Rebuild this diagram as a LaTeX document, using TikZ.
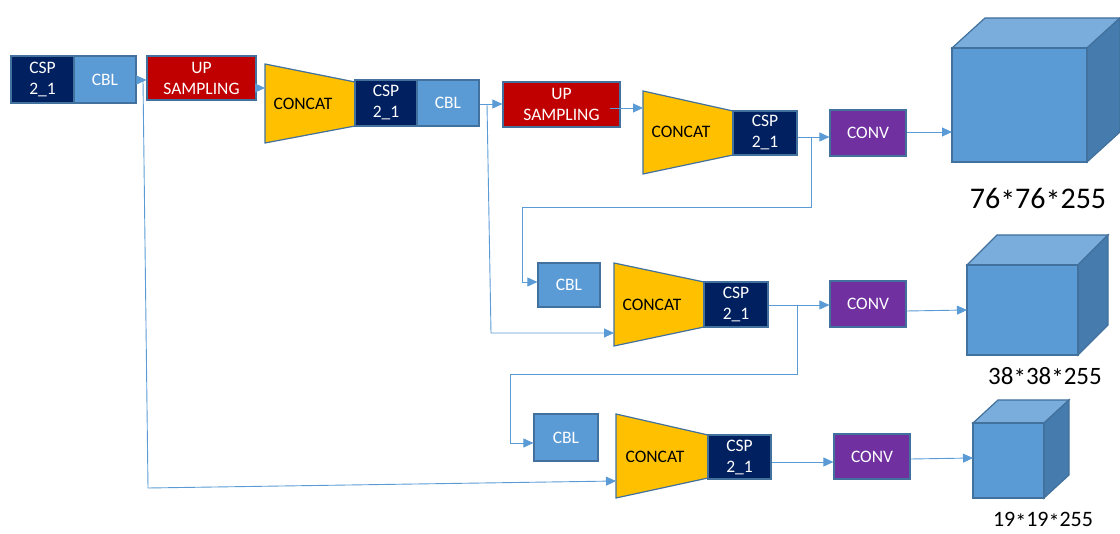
\documentclass[tikz,border=0pt]{standalone}
\usepackage{fontspec}
\setmainfont{Carlito}
\usetikzlibrary{arrows.meta,calc}
\definecolor{navy}{HTML}{002060}
\definecolor{cblc}{HTML}{5B9BD5}
\definecolor{upred}{HTML}{C00000}
\definecolor{concy}{HTML}{FFC000}
\definecolor{convp}{HTML}{7030A0}
\definecolor{bord}{HTML}{41719C}
\definecolor{lineb}{HTML}{5B9BD5}
\definecolor{cubetop}{HTML}{7AACDC}
\definecolor{cubeside}{HTML}{467BAD}
\newcommand{\mstar}{\raisebox{-0.22ex}{*}}
\tikzset{
  box/.style={draw=bord, line width=1.2pt, inner sep=0pt, align=center, text=white,
    font=\fontsize{17.5}{21}\selectfont},
  concatst/.style={draw=bord, line width=1.2pt, fill=concy},
  ctext/.style={inner sep=0pt, text=black, font=\fontsize{17.5}{21}\selectfont},
  conn/.style={draw=lineb, line width=0.9pt, -{Triangle[length=10pt,width=9pt]}},
  plainline/.style={draw=lineb, line width=0.9pt},
  cubeedge/.style={draw=bord, line width=1.2pt},
  dimlabel/.style={inner sep=0pt, text=black},
}
\begin{document}
\begin{tikzpicture}[x=1pt,y=-1pt]
\useasboundingbox (0,0) rectangle (1120,534);
% ---- top row
\node[box, fill=navy, minimum width=63, minimum height=47] (csp1) at (42.5,79.5) {CSP\\2\_1};
\node[box, fill=cblc, minimum width=62, minimum height=47] (cbl1) at (105,79.5) {CBL};
\node[box, fill=upred, minimum width=109, minimum height=44] (up1) at (201.5,78) {UP\\SAMPLING};
\draw[concatst] (265,64) -- (355,82) -- (355,126) -- (265,143) -- cycle;
\coordinate (c1w) at (265,88);
\node[ctext] (c1) at (303,104) {CONCAT};
\node[box, fill=navy, minimum width=62, minimum height=46] (csp2) at (386,103) {CSP\\2\_1};
\node[box, fill=cblc, minimum width=62, minimum height=46] (cbl2) at (448,103) {CBL};
\node[box, fill=upred, minimum width=117, minimum height=45] (up2) at (561.5,104.5) {UP\\SAMPLING};
\draw[concatst] (643,91) -- (733,111) -- (733,155) -- (643,174) -- cycle;
\coordinate (c2w) at (643,108);
\node[ctext] (c2) at (681,132) {CONCAT};
\node[box, fill=navy, minimum width=64, minimum height=44] (csp3) at (765,133) {CSP\\2\_1};
\node[box, fill=convp, minimum width=76, minimum height=46] (conv1) at (868,133) {CONV};
% ---- middle row
\node[box, fill=cblc, minimum width=62, minimum height=44] (cbl3) at (569,285) {CBL};
\draw[concatst] (614,263) -- (704,282) -- (704,327) -- (614,346) -- cycle;
\coordinate (c3w) at (614,333);
\node[ctext] (c3) at (652,305) {CONCAT};
\node[box, fill=navy, minimum width=64, minimum height=45] (csp4) at (736,304.5) {CSP\\2\_1};
\node[box, fill=convp, minimum width=76, minimum height=46] (conv2) at (868,304) {CONV};
% ---- bottom row
\node[box, fill=cblc, minimum width=64, minimum height=47] (cbl4) at (566,437.5) {CBL};
\draw[concatst] (616,414) -- (708,435) -- (708,478) -- (616,498) -- cycle;
\coordinate (c4w) at (616,481);
\node[ctext] (c4) at (655,457) {CONCAT};
\node[box, fill=navy, minimum width=63, minimum height=44] (csp5) at (739.5,457) {CSP\\2\_1};
\node[box, fill=convp, minimum width=76, minimum height=45] (conv3) at (872,456.5) {CONV};
% ---- cubes
\draw[cubeedge, fill=cubetop] (952,48) -- (985,18) -- (1120,18) -- (1087,48) -- cycle;
\draw[cubeedge, fill=cubeside] (1087,48) -- (1120,18) -- (1120,132) -- (1087,162) -- cycle;
\draw[cubeedge, fill=cblc] (952,48) rectangle (1087,162);
\coordinate (q1w) at (952,132);
\draw[cubeedge, fill=cubetop] (967,265) -- (997,235) -- (1108,235) -- (1078,265) -- cycle;
\draw[cubeedge, fill=cubeside] (1078,265) -- (1108,235) -- (1108,325) -- (1078,355) -- cycle;
\draw[cubeedge, fill=cblc] (967,265) rectangle (1078,355);
\coordinate (q2w) at (967,310);
\draw[cubeedge, fill=cubetop] (973,423) -- (998,400) -- (1069,400) -- (1044,423) -- cycle;
\draw[cubeedge, fill=cubeside] (1044,423) -- (1069,400) -- (1069,475) -- (1044,498) -- cycle;
\draw[cubeedge, fill=cblc] (973,423) rectangle (1044,498);
\coordinate (q3w) at (973,458);
% ---- labels
\node[dimlabel, font=\fontsize{30}{32}\selectfont] (l1) at (1038,200) {76\mstar76\mstar255};
\node[dimlabel, font=\fontsize{25}{28}\selectfont] (l2) at (1045,377) {38\mstar38\mstar255};
\node[dimlabel, font=\fontsize{22}{24}\selectfont] (l3) at (1043,521) {19\mstar19\mstar255};
% ---- connectors
\draw[conn] (cbl1.east |- 0,80) -- (up1.west |- 0,80);
\draw[conn] (up1.east |- c1w) -- (c1w);
\coordinate (b1a) at (143,80);
\coordinate (b1b) at (148,488);
\draw[conn] (b1a) -- (b1b) -- (c4w);
\draw[conn] (cbl2.east |- 0,104) -- (up2.west |- 0,104);
\draw[conn] (610,108) -- (c2w);
\coordinate (b2a) at (487,104);
\coordinate (b2b) at (491,333);
\draw[conn] (b2a) -- (b2b) -- (c3w);
\draw[conn] (csp3.east |- 0,137) -- (conv1.west |- 0,137);
\coordinate (b3a) at (811,137);
\coordinate (b3b) at (811,207);
\coordinate (b3c) at (522,207);
\coordinate (b3d) at (522,282);
\draw[conn] (b3a) -- (b3b) -- (b3c) -- (b3d) -- (b3d -| cbl3.west);
\draw[conn] (conv1.east |- q1w) -- (q1w);
\draw[conn] (csp4.east |- 0,305) -- (conv2.west |- 0,305);
\coordinate (b4a) at (797,305);
\coordinate (b4b) at (797,374);
\coordinate (b4c) at (510,374);
\coordinate (b4d) at (510,443);
\draw[conn] (b4a) -- (b4b) -- (b4c) -- (b4d) -- (b4d -| cbl4.west);
\draw[conn] (conv2.east |- 0,311) -- (q2w);
\draw[conn] (csp5.east |- 0,462) -- (conv3.west |- 0,462);
\draw[conn] (conv3.east |- 0,459) -- (q3w);
\end{tikzpicture}
\end{document}
